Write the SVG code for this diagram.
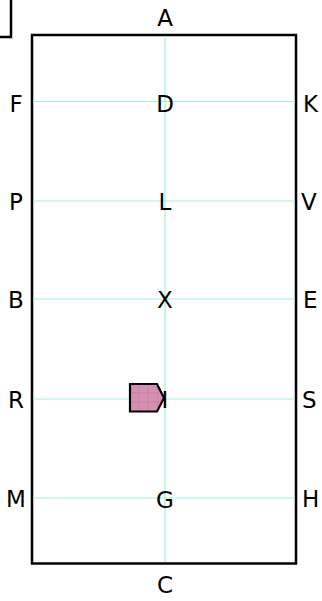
<svg xmlns="http://www.w3.org/2000/svg" width="322" height="601" viewBox="0 0 322 601">
<style>
.lbl{font-family:"DejaVu Sans",Verdana,sans-serif;font-size:23px;fill:#000}
.m{text-anchor:middle}
.s{text-anchor:start}
.grid{stroke:#a6f0cf;stroke-width:1.2;fill:none}
.frame{stroke:#000;stroke-width:2.5;fill:none}
</style>
<defs>
<pattern id="hatch" x="130" y="384" width="9.3" height="9.3" patternUnits="userSpaceOnUse">
<rect width="9.3" height="9.3" fill="#d58fb3"/>
<path d="M9.3 0V9.3M0 9.3H9.3" stroke="#b8688f" stroke-width="0.8"/>
</pattern>
</defs>
<rect id="corner-box" x="-50" y="-50" width="61" height="87" class="frame"/>
<rect id="frame" x="32" y="35" width="264" height="528.5" class="frame"/>
<g id="connectors">
<line class="grid" x1="165" y1="36" x2="165" y2="562"/>
<line class="grid" x1="33" y1="101.5" x2="295" y2="101.5"/>
<line class="grid" x1="33" y1="201" x2="295" y2="201"/>
<line class="grid" x1="33" y1="299" x2="295" y2="299"/>
<line class="grid" x1="33" y1="399" x2="295" y2="399"/>
<line class="grid" x1="33" y1="498" x2="295" y2="498"/>
</g>
<g id="A"><text class="lbl m" x="165" y="26">A</text></g>
<g id="C"><text class="lbl m" x="165" y="593">C</text></g>
<g id="F"><text class="lbl m" x="16" y="112">F</text></g>
<g id="D"><text class="lbl m" x="165" y="112">D</text></g>
<g id="K"><text class="lbl s" x="303" y="112">K</text></g>
<g id="P"><text class="lbl m" x="16" y="210">P</text></g>
<g id="L"><text class="lbl m" x="165" y="210">L</text></g>
<g id="V"><text class="lbl s" x="301" y="210">V</text></g>
<g id="B"><text class="lbl m" x="16" y="308">B</text></g>
<g id="X"><text class="lbl m" x="165" y="308">X</text></g>
<g id="E"><text class="lbl s" x="303" y="308">E</text></g>
<g id="R"><text class="lbl m" x="16" y="408">R</text></g>
<g id="I">
<polygon points="130,384 157,384 164,398 157,411.5 130,411.5" fill="url(#hatch)" stroke="#000" stroke-width="2.2"/>
<text class="lbl m" x="165" y="408">I</text>
</g>
<g id="S"><text class="lbl s" x="302" y="408">S</text></g>
<g id="M"><text class="lbl m" x="16" y="507">M</text></g>
<g id="G"><text class="lbl m" x="165" y="508">G</text></g>
<g id="H"><text class="lbl s" x="302" y="507">H</text></g>
</svg>
